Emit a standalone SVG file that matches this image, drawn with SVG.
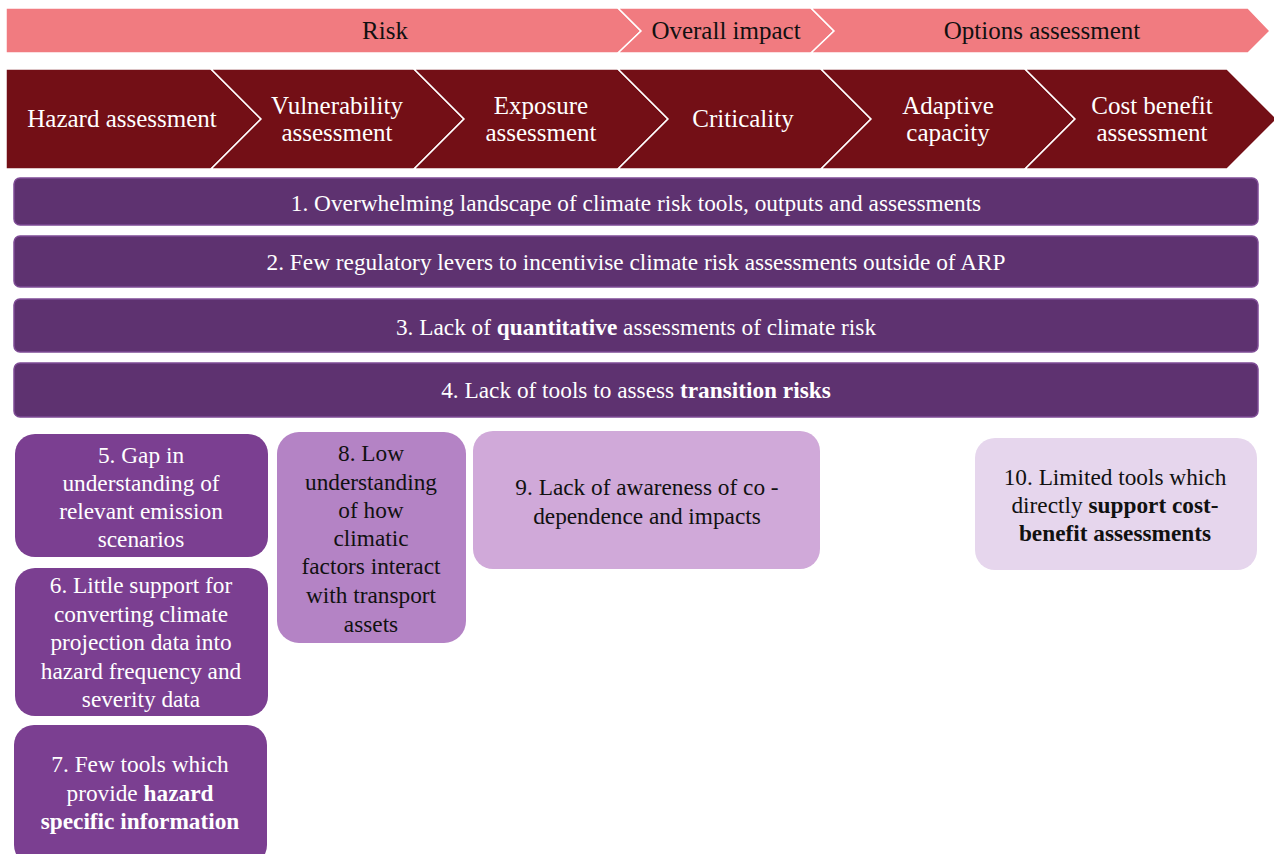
<svg xmlns="http://www.w3.org/2000/svg" width="1274" height="854" viewBox="0 0 1274 854">
<style>
  text { font-family: "Liberation Serif", "Times New Roman", serif; text-anchor: middle; }
  .phase polygon { fill: #F17B80; stroke: #ffffff; stroke-width: 1.5; }
  .phase text { font-size: 25px; fill: #111111; }
  .step polygon { fill: #730F16; stroke: #ffffff; stroke-width: 1.5; }
  .step text { font-size: 25px; fill: #ffffff; }
  .bar rect { fill: #5E3270; stroke: #7E4B95; stroke-width: 1.5; }
  .bar text { font-size: 23.3px; fill: #ffffff; }
  .bx text { font-size: 23.3px; }
  .dark rect { fill: #7B3F91; }
  .dark text { fill: #ffffff; }
  .mid rect { fill: #B483C5; }
  .light rect { fill: #D0A9D9; }
  .pale rect { fill: #E6D6ED; }
  .mid text, .light text, .pale text { fill: #111111; }
  .b { font-weight: bold; }
</style>
<rect width="1274" height="854" fill="#ffffff"/>

<g id="phase-risk" class="phase">
  <polygon points="6,8 618,8 641,31 618,53 6,53"/>
  <text x="385" y="39">Risk</text>
</g>
<g id="phase-overall-impact" class="phase">
  <polygon points="618,8 811,8 834,31 811,53 618,53 641,31"/>
  <text x="726" y="39">Overall impact</text>
</g>
<g id="phase-options" class="phase">
  <polygon points="811,8 1248,8 1270,31 1248,53 811,53 834,31"/>
  <text x="1042" y="39">Options assessment</text>
</g>

<g id="step-hazard" class="step">
  <polygon points="6,69 211,69 261,119 211,169 6,169"/>
  <text x="122" y="127">Hazard assessment</text>
</g>
<g id="step-vulnerability" class="step">
  <polygon points="211,69 414,69 464,119 414,169 211,169 261,119"/>
  <text x="337" y="114">Vulnerability</text>
  <text x="337" y="141">assessment</text>
</g>
<g id="step-exposure" class="step">
  <polygon points="414,69 618,69 668,119 618,169 414,169 464,119"/>
  <text x="541" y="114">Exposure</text>
  <text x="541" y="141">assessment</text>
</g>
<g id="step-criticality" class="step">
  <polygon points="618,69 821,69 871,119 821,169 618,169 668,119"/>
  <text x="743" y="127">Criticality</text>
</g>
<g id="step-adaptive" class="step">
  <polygon points="821,69 1025,69 1075,119 1025,169 821,169 871,119"/>
  <text x="948" y="114">Adaptive</text>
  <text x="948" y="141">capacity</text>
</g>
<g id="step-costbenefit" class="step">
  <polygon points="1025,69 1227,69 1277,119 1227,169 1025,169 1075,119"/>
  <text x="1152" y="114">Cost benefit</text>
  <text x="1152" y="141">assessment</text>
</g>

<g id="bar1" class="bar">
  <rect x="14" y="178" width="1244" height="47" rx="6"/>
  <text x="636" y="211">1. Overwhelming landscape of climate risk tools, outputs and assessments</text>
</g>
<g id="bar2" class="bar">
  <rect x="14" y="236" width="1244" height="51" rx="6"/>
  <text x="636" y="270">2. Few regulatory levers to incentivise climate risk assessments outside of ARP</text>
</g>
<g id="bar3" class="bar">
  <rect x="14" y="299" width="1244" height="53" rx="6"/>
  <text x="636" y="335">3. Lack of <tspan class="b">quantitative</tspan> assessments of climate risk</text>
</g>
<g id="bar4" class="bar">
  <rect x="14" y="363" width="1244" height="54" rx="6"/>
  <text x="636" y="398">4. Lack of tools to assess <tspan class="b">transition risks</tspan></text>
</g>

<g id="box5" class="bx dark">
  <rect x="15" y="434" width="253" height="123" rx="20"/>
  <text x="141" y="463">5. Gap in</text>
  <text x="141" y="491">understanding of</text>
  <text x="141" y="519">relevant emission</text>
  <text x="141" y="547">scenarios</text>
</g>
<g id="box6" class="bx dark">
  <rect x="15" y="568" width="253" height="148" rx="20"/>
  <text x="141" y="593">6. Little support for</text>
  <text x="141" y="622">converting climate</text>
  <text x="141" y="650">projection data into</text>
  <text x="141" y="679">hazard frequency and</text>
  <text x="141" y="707">severity data</text>
</g>
<g id="box7" class="bx dark">
  <rect x="14" y="725" width="253" height="140" rx="20"/>
  <text x="140" y="772">7. Few tools which</text>
  <text x="140" y="801">provide <tspan class="b">hazard</tspan></text>
  <text x="140" y="829" class="b">specific information</text>
</g>
<g id="box8" class="bx mid">
  <rect x="277" y="432" width="189" height="211" rx="22"/>
  <text x="371" y="461">8. Low</text>
  <text x="371" y="490">understanding</text>
  <text x="371" y="518">of how</text>
  <text x="371" y="546">climatic</text>
  <text x="371" y="574">factors interact</text>
  <text x="371" y="603">with transport</text>
  <text x="371" y="632">assets</text>
</g>
<g id="box9" class="bx light">
  <rect x="473" y="431" width="347" height="138" rx="20"/>
  <text x="647" y="495">9. Lack of awareness of co -</text>
  <text x="647" y="524">dependence and impacts</text>
</g>
<g id="box10" class="bx pale">
  <rect x="975" y="438" width="282" height="132" rx="20"/>
  <text x="1115" y="485">10. Limited tools which</text>
  <text x="1115" y="513">directly <tspan class="b">support cost-</tspan></text>
  <text x="1115" y="541" class="b">benefit assessments</text>
</g>

<g id="connectors"></g>
</svg>
